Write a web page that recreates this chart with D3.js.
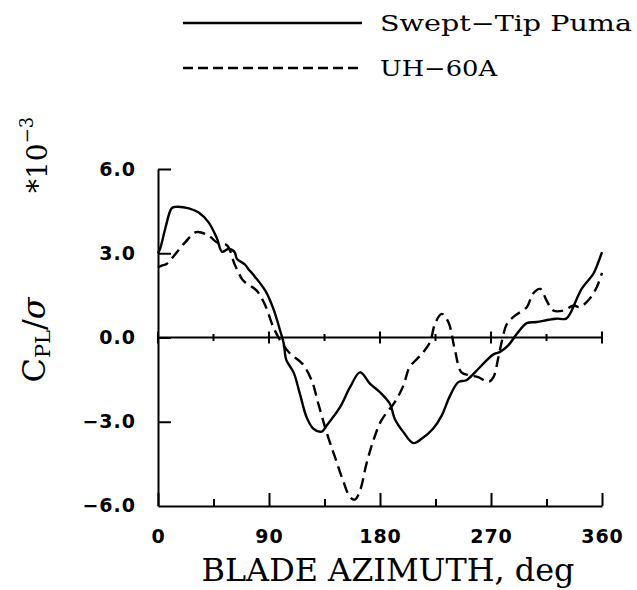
<!DOCTYPE html>
<html><head><meta charset="utf-8">
<script src="https://cdn.jsdelivr.net/npm/d3@7"></script>
<style>body{margin:0;background:#fff}svg{display:block}</style>
</head><body><svg id="c" width="637" height="590"></svg>
<script>
const seriesNames = ["Swept\u2212Tip Puma", "UH\u221260A"];
const xTicks = [0, 90, 180, 270, 360];
const xMinorTicks = [45, 135, 225, 315];
const yTicks = [-6, -3, 0, 3, 6];
const yTickLabels = ["\u22126.0", "\u22123.0", "0.0", "3.0", "6.0"];
const sweptAz = [0,2,6,11,14,25,33,41,47.6,52,57,62,64,70.5,73,77,87,93.5,99,102,104,110,115,120.5,126,132.7,136.8,147.6,155.7,163.8,172,180,188,192,199,207,214,223,230,236.8,243.5,250,257,265,272,277,284,291,299,307,316.5,323,331,334,343.5,353,357,360];
const sweptVal = [3.0,3.2,3.9,4.6,4.65,4.6,4.45,4.1,3.55,3.05,3.15,3.05,2.8,2.6,2.45,2.25,1.67,1.03,0.25,-0.22,-0.8,-1.25,-2.0,-2.84,-3.25,-3.35,-3.13,-2.48,-1.77,-1.24,-1.65,-1.95,-2.36,-2.9,-3.37,-3.76,-3.6,-3.25,-2.78,-2.07,-1.59,-1.52,-1.24,-0.88,-0.6,-0.52,-0.28,0.13,0.51,0.55,0.63,0.67,0.67,0.84,1.73,2.27,2.68,3.04];
const uhAz = [0,3,7,12,22,31,41,47.6,56,62,68,70.5,80,87,93.5,100,107,117,124.6,130,137,143.5,150,155.7,159.7,163.8,169,174.6,181,192,199,204,214,220.5,224.6,230,235.4,240.8,246,253,259.7,268,272,276,279,283,289.5,299,304,310,315,320.5,328.6,337,342,350,355.7,360];
const uhVal = [2.5,2.56,2.62,2.86,3.39,3.75,3.63,3.39,3.28,2.62,2.09,1.97,1.67,1.14,0.37,-0.17,-0.57,-0.93,-1.53,-2.36,-3.42,-4.26,-5.09,-5.68,-5.77,-5.45,-4.5,-3.67,-2.96,-2.3,-1.71,-1.06,-0.58,-0.17,0.49,0.84,0.55,-0.46,-1.24,-1.35,-1.41,-1.59,-1.41,-0.7,-0.1,0.49,0.78,1.08,1.56,1.73,1.32,0.96,0.96,1.14,1.08,1.38,1.79,2.3];

const svg = d3.select("#c");
const x = d3.scaleLinear().domain([0, 360]).range([158, 602]);
const y = d3.scaleLinear().domain([-6, 6]).range([506, 169]);
const serif = "'DejaVu Serif', serif";
const sans = "'DejaVu Sans', sans-serif";

// left axis
const ya = svg.append("g").attr("transform", `translate(${x(0)},0)`)
  .call(d3.axisLeft(y).tickValues(yTicks.filter(v => v !== -6))
    .tickFormat(v => yTickLabels[yTicks.indexOf(v)]).tickSizeInner(-13).tickSizeOuter(0).tickPadding(22));
ya.append("g").attr("transform", `translate(0,${y(-6)})`).append("text")
  .attr("x", -22).attr("dy", "0.32em").attr("fill", "#000").attr("text-anchor", "end").text(yTickLabels[0]);
ya.select(".domain").attr("stroke-width", 2);
ya.selectAll("line").attr("stroke-width", 2);
ya.selectAll("text").attr("font-family", sans).attr("font-weight", "bold").attr("font-size", 19)
  .attr("letter-spacing", 1);

// bottom axis
const xa = svg.append("g").attr("transform", `translate(0,${y(-6)})`)
  .call(d3.axisBottom(x).tickValues(xTicks).tickFormat(d3.format("d")).tickSizeInner(-13).tickSizeOuter(0).tickPadding(24));
xa.select(".domain").attr("stroke-width", 2);
xa.selectAll("line").attr("stroke-width", 2);
xa.selectAll("text").attr("font-family", sans).attr("font-weight", "bold").attr("font-size", 19)
  .attr("letter-spacing", 1);
const xm = svg.append("g").attr("transform", `translate(0,${y(-6)})`)
  .call(d3.axisBottom(x).tickValues(xMinorTicks).tickFormat("").tickSizeInner(-7).tickSizeOuter(0));
xm.select(".domain").remove();
xm.selectAll("line").attr("stroke-width", 2);

// zero line with crossing ticks
svg.append("line").attr("x1", x(0)).attr("x2", x(360)).attr("y1", y(0)).attr("y2", y(0))
  .attr("stroke", "#000").attr("stroke-width", 2);
svg.append("g").selectAll("line").data(xTicks.concat(xMinorTicks)).join("line")
  .attr("x1", d => x(d)).attr("x2", d => x(d))
  .attr("y1", d => y(0) - (d % 90 === 0 ? 6 : 3.5)).attr("y2", d => y(0) + (d % 90 === 0 ? 6 : 3.5))
  .attr("stroke", "#000").attr("stroke-width", 2);

// lines
const line = d3.line().x(d => x(d[0])).y(d => y(d[1])).curve(d3.curveCatmullRom.alpha(0.5));
const sweptData = sweptAz.map((a, i) => [a, sweptVal[i]]);
const uhData = uhAz.map((a, i) => [a, uhVal[i]]);
svg.append("path").datum(sweptData).attr("d", line).attr("fill", "none")
  .attr("stroke", "#000").attr("stroke-width", 2.4).attr("stroke-linejoin", "round");
svg.append("path").datum(uhData).attr("d", line).attr("fill", "none")
  .attr("stroke", "#000").attr("stroke-width", 2.4).attr("stroke-dasharray", "11,6");

// legend
const leg = svg.append("g");
[[23, null, 31], [68, "10,5", 76]].forEach((r, i) => {
  leg.append("line").attr("x1", 183).attr("x2", 362).attr("y1", r[0]).attr("y2", r[0])
    .attr("stroke", "#000").attr("stroke-width", 2.4).attr("stroke-dasharray", r[1]);
  leg.append("text").attr("x", 380).attr("y", r[2]).attr("font-family", serif).attr("font-size", 22)
    .attr("textLength", i === 0 ? 252 : 117).attr("lengthAdjust", "spacingAndGlyphs").text(seriesNames[i]);
});

// x title
svg.append("text").attr("x", 388).attr("y", 581).attr("text-anchor", "middle")
  .attr("font-family", serif).attr("font-size", 31).attr("textLength", 373).attr("lengthAdjust", "spacingAndGlyphs")
  .text("BLADE AZIMUTH, deg");

// y title
const yt = svg.append("text").attr("transform", "translate(45,340) rotate(-90)").attr("text-anchor", "middle")
  .attr("font-family", serif).attr("font-size", 32);
yt.append("tspan").text("C");
yt.append("tspan").attr("font-size", 21).attr("dy", 5).text("PL");
yt.append("tspan").attr("dy", -5).text("/");
yt.append("tspan").attr("font-style", "italic").text("\u03c3");

const ye = svg.append("text").attr("transform", "translate(47,193) rotate(-90)")
  .attr("font-family", serif).attr("font-size", 28);
ye.append("tspan").text("*10");
ye.append("tspan").attr("font-size", 18).attr("dy", -14).text("\u22123");
</script></body></html>
